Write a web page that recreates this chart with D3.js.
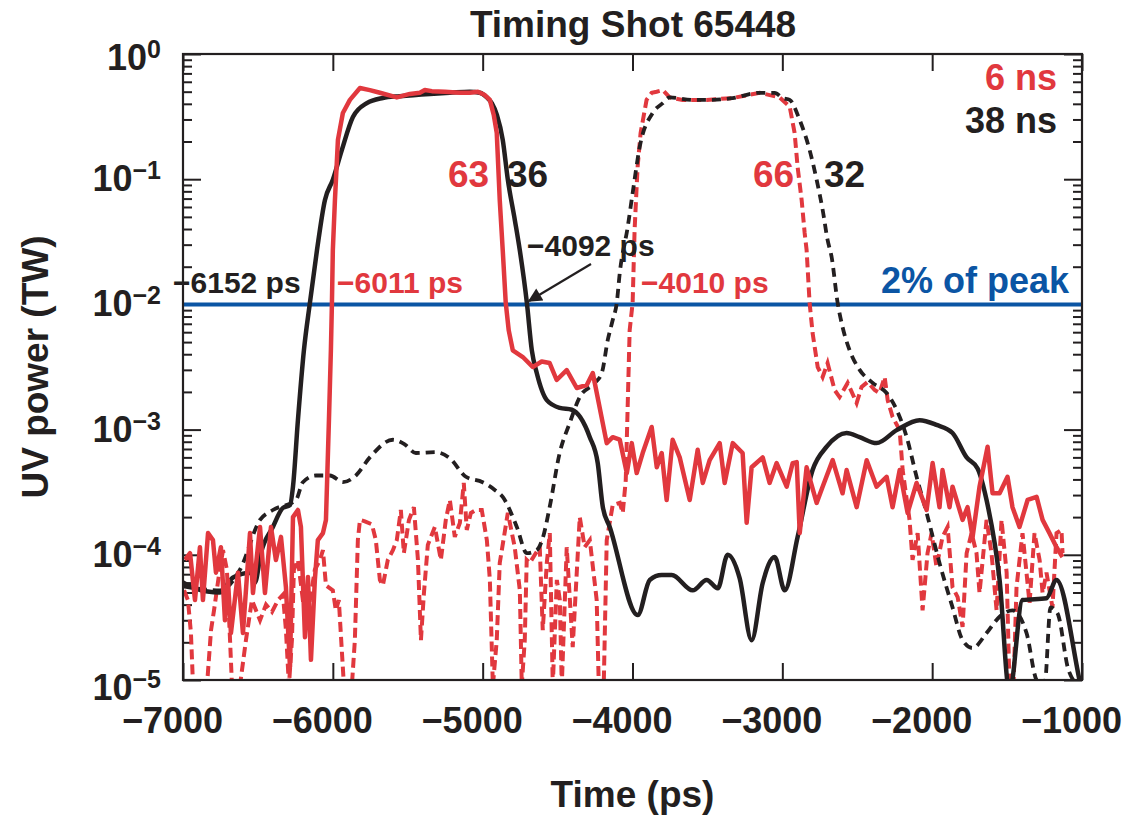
<!DOCTYPE html>
<html><head><meta charset="utf-8">
<script src="https://cdn.jsdelivr.net/npm/d3@7"></script>
<style>
body{margin:0;background:#fff}
text{font-family:"Liberation Sans",Arial,Helvetica,sans-serif;font-weight:bold}
</style>
</head><body><svg id="c" width="1128" height="815"></svg>
<script>
// ---------------- data ----------------
const xTicks = [-7000, -6000, -5000, -4000, -3000, -2000, -1000];
const yExponents = [0, -1, -2, -3, -4, -5];
const legendLabels = ["6 ns", "38 ns"];
const thresholdLevel = 1e-2;           // "2% of peak"
const thresholdLabel = "2% of peak";
const timingLabels = ["\u22126152 ps", "\u22126011 ps", "\u22124092 ps", "\u22124010 ps"];
const widthLabels = ["63", "36", "66", "32"];

// [time (ps), UV power (TW)]
const pulse1_38ns = [[-7000,6.0e-5],[-6920,5.4e-5],[-6753,5.0e-5],[-6666,6.6e-5],[-6546,7.2e-5],[-6520,6.0e-5],[-6480,1.03e-4],[-6400,1.67e-4],[-6333,2.37e-4],[-6286,2.5e-4],[-6266,3.5e-4],[-6233,1.19e-3],[-6193,4.3e-3],[-6153,1.03e-2],[-6106,0.027],[-6053,0.068],[-6000,0.099],[-5940,0.171],[-5866,0.314],[-5773,0.405],[-5666,0.445],[-5553,0.46],[-5352,0.48],[-5219,0.49],[-5086,0.50],[-5019,0.49],[-4972,0.45],[-4939,0.405],[-4905,0.326],[-4866,0.206],[-4832,0.099],[-4785,0.047],[-4752,0.027],[-4705,0.0103],[-4672,0.0043],[-4639,0.00283],[-4572,0.00172],[-4485,0.00149],[-4405,0.00144],[-4285,8.7e-4],[-4232,5.4e-4],[-4198,2.4e-4],[-4152,1.67e-4],[-3965,3.3e-5],[-3885,6.3e-5],[-3805,6.9e-5],[-3738,6.9e-5],[-3598,5.2e-5],[-3505,6.3e-5],[-3431,5.4e-5],[-3365,1.0e-4],[-3285,6.5e-5],[-3205,2.08e-5],[-3131,5.95e-5],[-3051,9.6e-5],[-2984,5.2e-5],[-2898,1.39e-4],[-2798,4.75e-4],[-2704,7.3e-4],[-2571,9.4e-4],[-2484,8.7e-4],[-2371,7.8e-4],[-2237,9.9e-4],[-2084,1.19e-3],[-1971,1.09e-3],[-1864,9.4e-4],[-1770,6.0e-4],[-1697,4.9e-4],[-1637,2.74e-4],[-1550,6.3e-5],[-1484,8e-6],[-1397,4.35e-5],[-1237,4.5e-5],[-1170,6.3e-5],[-1017,1.0e-5],[-1000,8e-6]];

const pulse1_6ns = [[-6987,9.1e-5],[-6953,1.03e-4],[-6920,4.35e-5],[-6887,1.15e-4],[-6867,4.35e-5],[-6833,1.49e-4],[-6800,1.31e-4],[-6780,7.2e-5],[-6747,1.15e-4],[-6720,3.0e-5],[-6700,6.3e-5],[-6680,2.37e-5],[-6633,7.2e-5],[-6600,2.37e-5],[-6553,1.49e-4],[-6533,4.95e-5],[-6486,1.67e-4],[-6453,4.95e-5],[-6413,1.67e-4],[-6380,9.1e-5],[-6346,1.39e-4],[-6313,5.5e-5],[-6286,1.27e-5],[-6266,2.0e-4],[-6233,2.28e-4],[-6213,1.67e-4],[-6186,2.2e-5],[-6166,6.65e-5],[-6146,1.45e-5],[-6120,6.3e-5],[-6100,1.31e-4],[-6066,1.49e-4],[-6046,1.9e-4],[-6026,1.19e-3],[-6013,4.3e-3],[-6006,1.03e-2],[-6000,0.027],[-5986,0.068],[-5966,0.206],[-5933,0.338],[-5886,0.43],[-5819,0.535],[-5753,0.515],[-5686,0.49],[-5573,0.45],[-5486,0.48],[-5419,0.49],[-5386,0.515],[-5339,0.505],[-5252,0.50],[-5152,0.49],[-5086,0.49],[-5032,0.50],[-4986,0.47],[-4952,0.43],[-4926,0.326],[-4906,0.234],[-4886,0.068],[-4866,0.027],[-4846,0.0103],[-4826,0.0062],[-4799,0.0043],[-4732,0.0038],[-4666,0.00316],[-4606,0.0035],[-4553,0.0034],[-4506,0.00249],[-4439,0.00299],[-4372,0.00215],[-4305,0.00227],[-4265,0.00283],[-4172,7.8e-4],[-4132,8.7e-4],[-4085,8.3e-4],[-4038,4.5e-4],[-4005,7.8e-4],[-3972,4.5e-4],[-3932,6.5e-4],[-3872,1.05e-3],[-3838,5.0e-4],[-3805,6.5e-4],[-3772,2.74e-4],[-3732,8.3e-4],[-3685,6.0e-4],[-3618,2.74e-4],[-3565,6.9e-4],[-3531,3.75e-4],[-3485,5.7e-4],[-3418,7.8e-4],[-3385,3.75e-4],[-3331,7.8e-4],[-3265,6.5e-4],[-3238,1.8e-4],[-3205,5.0e-4],[-3131,6.0e-4],[-3085,3.75e-4],[-3038,5.4e-4],[-2971,3.5e-4],[-2931,5.4e-4],[-2904,5.5e-4],[-2884,1.49e-4],[-2838,5.0e-4],[-2771,2.6e-4],[-2731,3.5e-4],[-2664,5.7e-4],[-2598,3.1e-4],[-2571,4.75e-4],[-2504,2.4e-4],[-2437,5.7e-4],[-2371,3.5e-4],[-2304,4.2e-4],[-2264,2.4e-4],[-2217,4.75e-4],[-2164,2.16e-4],[-2104,3.75e-4],[-2037,2.28e-4],[-1997,5.4e-4],[-1951,2.4e-4],[-1931,4.75e-4],[-1884,2.4e-4],[-1864,3.5e-4],[-1797,1.9e-4],[-1764,2.4e-4],[-1730,1.39e-4],[-1684,3.5e-4],[-1630,7.3e-4],[-1597,3.1e-4],[-1550,3.1e-4],[-1497,4.2e-4],[-1464,2.4e-4],[-1417,1.67e-4],[-1363,2.74e-4],[-1303,2.9e-4],[-1263,1.9e-4],[-1217,1.49e-4],[-1170,1.15e-4],[-1130,9.6e-5]];

const pulse2_38ns = [[-7000,5.6e-5],[-6753,5.2e-5],[-6620,7.6e-5],[-6486,1.9e-4],[-6400,2.28e-4],[-6246,2.74e-4],[-6200,3.8e-4],[-6113,4.3e-4],[-6019,4.3e-4],[-5933,3.8e-4],[-5846,4.3e-4],[-5753,6.0e-4],[-5599,8.3e-4],[-5519,7.6e-4],[-5446,6.5e-4],[-5312,6.6e-4],[-5219,5.9e-4],[-5112,4.2e-4],[-5000,3.8e-4],[-4919,3.3e-4],[-4866,2.9e-4],[-4772,1.67e-4],[-4705,1.03e-4],[-4639,1.09e-4],[-4599,1.36e-4],[-4553,2.4e-4],[-4486,6.5e-4],[-4419,1.13e-3],[-4352,1.82e-3],[-4252,2.36e-3],[-4205,2.83e-3],[-4165,5.2e-3],[-4132,7.5e-3],[-4105,0.0103],[-4085,0.0178],[-4032,0.0415],[-3999,0.0776],[-3952,0.181],[-3866,0.338],[-3798,0.405],[-3752,0.45],[-3598,0.43],[-3465,0.43],[-3331,0.445],[-3151,0.49],[-3051,0.49],[-2998,0.445],[-2951,0.43],[-2884,0.297],[-2818,0.171],[-2771,0.099],[-2731,0.057],[-2698,0.0327],[-2671,0.0239],[-2631,0.0103],[-2598,0.0066],[-2551,0.0043],[-2484,0.003],[-2397,0.00236],[-2304,0.00196],[-2237,0.00144],[-2170,8.7e-4],[-2104,4.2e-4],[-2037,2.16e-4],[-1951,8.6e-5],[-1864,3.8e-5],[-1797,2.08e-5],[-1730,1.8e-5],[-1637,2.37e-5],[-1550,3.2e-5],[-1464,3.6e-5],[-1370,2.37e-5],[-1303,1.0e-5],[-1250,9e-6],[-1210,3.8e-5],[-1163,3.4e-5],[-1090,1.2e-5],[-1000,8.5e-6]];

const pulse2_6ns = [[-6993,5.2e-5],[-6967,4.35e-5],[-6947,2.37e-5],[-6933,9e-6],[-6840,9e-6],[-6813,2.5e-5],[-6793,3.6e-5],[-6760,6.9e-5],[-6733,1.09e-4],[-6707,7.6e-5],[-6686,2.08e-5],[-6673,9e-6],[-6620,9e-6],[-6580,2.08e-5],[-6540,4.35e-5],[-6513,3.6e-5],[-6486,3.0e-5],[-6446,4.0e-5],[-6406,3.5e-5],[-6366,4.35e-5],[-6333,4.8e-5],[-6313,2.5e-5],[-6293,9e-6],[-6273,2.08e-5],[-6260,7.6e-5],[-6233,9.1e-5],[-6200,4.35e-5],[-6153,4.35e-5],[-6120,7.6e-5],[-6086,9.1e-5],[-6066,1.09e-4],[-6046,5.7e-5],[-6000,5.2e-5],[-5980,3.6e-5],[-5960,4.35e-5],[-5926,9e-6],[-5873,9e-6],[-5853,2.08e-5],[-5833,1.31e-4],[-5819,1.9e-4],[-5786,1.85e-4],[-5739,1.75e-4],[-5713,1.31e-4],[-5686,6.3e-5],[-5666,5.7e-5],[-5633,9.1e-5],[-5599,1.09e-4],[-5573,1.31e-4],[-5546,2.28e-4],[-5526,1.03e-4],[-5492,1.9e-4],[-5459,2.4e-4],[-5432,9.1e-5],[-5412,2.08e-5],[-5392,4.95e-5],[-5366,1.2e-4],[-5319,1.67e-4],[-5279,9.1e-5],[-5246,1.9e-4],[-5219,2.74e-4],[-5186,1.39e-4],[-5152,1.8e-4],[-5126,3.75e-4],[-5106,1.58e-4],[-5079,2.16e-4],[-5046,2.28e-4],[-5006,2.28e-4],[-4972,1.31e-4],[-4952,6.3e-5],[-4932,9e-6],[-4906,2.08e-5],[-4886,8.6e-5],[-4832,2.16e-4],[-4786,1.15e-4],[-4752,5.2e-5],[-4739,9e-6],[-4719,2.08e-5],[-4706,9.1e-5],[-4686,8.6e-5],[-4652,1.0e-4],[-4619,1.15e-4],[-4599,2.5e-5],[-4572,8.6e-5],[-4552,1.49e-4],[-4532,9e-6],[-4505,6.3e-5],[-4485,4.35e-5],[-4472,9e-6],[-4439,1.15e-4],[-4399,1.83e-5],[-4352,2.0e-4],[-4319,1.15e-4],[-4285,1.31e-4],[-4239,4.35e-5],[-4225,9e-6],[-4192,9e-6],[-4172,1.31e-4],[-4132,2.5e-4],[-4085,2.6e-4],[-4065,2.16e-4],[-4045,3.95e-4],[-4019,0.0062],[-3999,0.0103],[-3986,0.0393],[-3966,0.125],[-3946,0.234],[-3906,0.43],[-3872,0.49],[-3839,0.50],[-3798,0.515],[-3752,0.45],[-3665,0.43],[-3505,0.43],[-3331,0.445],[-3151,0.49],[-3018,0.45],[-2951,0.38],[-2918,0.234],[-2898,0.125],[-2871,0.068],[-2851,0.0372],[-2838,0.0272],[-2818,0.0103],[-2798,0.0059],[-2764,0.00316],[-2731,0.00263],[-2698,0.0034],[-2651,0.00207],[-2618,0.00182],[-2564,0.00236],[-2504,0.00163],[-2471,0.00219],[-2431,0.0024],[-2384,0.00207],[-2351,0.00196],[-2317,0.00263],[-2297,0.00172],[-2264,0.00126],[-2217,9.9e-4],[-2197,4.75e-4],[-2151,1.9e-4],[-2131,9.1e-5],[-2097,1.49e-4],[-2064,3.6e-5],[-2031,1.03e-4],[-2004,1.49e-4],[-1971,8.0e-5],[-1931,1.39e-4],[-1897,1.67e-4],[-1864,5.5e-5],[-1830,4.6e-5],[-1797,2.65e-5],[-1770,1.03e-4],[-1737,1.49e-4],[-1704,1.03e-4],[-1684,4.95e-5],[-1637,1.9e-4],[-1604,1.03e-4],[-1570,3.6e-5],[-1537,1.9e-4],[-1503,7.2e-5],[-1484,9e-6],[-1457,9e-6],[-1437,5.5e-5],[-1397,1.49e-4],[-1350,4.1e-5],[-1317,1.49e-4],[-1283,9.1e-5],[-1263,4.95e-5],[-1237,7.2e-5],[-1197,3.8e-5],[-1170,1.49e-4],[-1137,1.58e-4],[-1130,1.03e-4]];

// ---------------- drawing ----------------
const RED = "#e1383e", BLACK = "#231f20", BLUE = "#0b55a4";
const M = {l:183, r:1082, t:54, b:680};
const svg = d3.select("#c");
const x = d3.scaleLinear().domain([xTicks[0], xTicks[xTicks.length-1]]).range([M.l, M.r]);
const y = d3.scaleLog().domain([1e-5, 1]).range([M.b, M.t]);

const defs = svg.append("defs");
defs.append("clipPath").attr("id","plot")
  .append("rect").attr("x",M.l).attr("y",M.t).attr("width",M.r-M.l).attr("height",M.b-M.t);

const isMajor = v => Math.abs(Math.log10(v) - Math.round(Math.log10(v))) < 1e-6;
const yTickVals = y.ticks();

function styleAxis(g){ g.select(".domain").remove(); g.selectAll(".tick line").attr("stroke",BLACK).attr("stroke-width",2); g.selectAll(".tick text").remove(); }

svg.append("g").attr("transform",`translate(${M.l},0)`)
  .call(d3.axisLeft(y).tickValues(yTickVals).tickSize(-9).tickFormat(""))
  .call(styleAxis)
  .selectAll(".tick line").attr("x2", d => isMajor(d) ? 18 : 9);
svg.append("g").attr("transform",`translate(${M.r},0)`)
  .call(d3.axisRight(y).tickValues(yTickVals).tickSize(-9).tickFormat(""))
  .call(styleAxis)
  .selectAll(".tick line").attr("x2", d => isMajor(d) ? -18 : -9);
svg.append("g").attr("transform",`translate(0,${M.t})`)
  .call(d3.axisTop(x).tickValues(xTicks).tickSize(-17).tickFormat(""))
  .call(styleAxis);
svg.append("g").attr("transform",`translate(0,${M.b})`)
  .call(d3.axisBottom(x).tickValues(xTicks).tickSize(-17).tickFormat(""))
  .call(styleAxis);

// threshold line
svg.append("line").attr("x1",M.l).attr("x2",M.r).attr("y1",y(thresholdLevel)).attr("y2",y(thresholdLevel))
  .attr("stroke",BLUE).attr("stroke-width",4);

// traces
const line = d3.line().x(d => x(d[0])).y(d => y(d[1]));
const lineSmooth = d3.line().x(d => x(d[0])).y(d => y(d[1])).curve(d3.curveMonotoneX);
const gp = svg.append("g").attr("clip-path","url(#plot)");
gp.append("path").datum(pulse2_6ns).attr("d",line).attr("fill","none").attr("stroke",RED)
  .attr("stroke-width",4).attr("stroke-dasharray","10,5");
gp.append("path").datum(pulse2_38ns).attr("d",lineSmooth).attr("fill","none").attr("stroke",BLACK)
  .attr("stroke-width",3.8).attr("stroke-dasharray","9,6");
gp.append("path").datum(pulse1_38ns).attr("d",lineSmooth).attr("fill","none").attr("stroke",BLACK)
  .attr("stroke-width",4.5).attr("stroke-linejoin","round");
gp.append("path").datum(pulse1_6ns).attr("d",line).attr("fill","none").attr("stroke",RED)
  .attr("stroke-width",4.5).attr("stroke-linejoin","round");

// frame
svg.append("rect").attr("x",M.l).attr("y",M.t).attr("width",M.r-M.l).attr("height",M.b-M.t)
  .attr("fill","none").attr("stroke",BLACK).attr("stroke-width",2.2);

// x tick labels (digits centred on tick, minus hanging left)
svg.selectAll(".xl").data(xTicks).enter().append("text").attr("class","xl")
  .attr("y",733).attr("font-size",36).attr("fill",BLACK)
  .text(d => (d<0?"\u2212":"") + Math.abs(d))
  .each(function(d){
    const full = this.getComputedTextLength();
    const n = this.getNumberOfChars();
    const dig = this.getSubStringLength(1, n-1);
    d3.select(this).attr("x", x(d) - (full - dig) - dig/2);
  });

// y tick labels 10^n
const yl = svg.selectAll(".yl").data(yExponents).enter().append("text").attr("class","yl")
  .attr("x",161).attr("y", d => y(Math.pow(10,d)) + (d===0 ? 16 : d===-5 ? 20 : 12))
  .attr("text-anchor","end").attr("font-size",36).attr("fill",BLACK);
yl.append("tspan").text("10");
yl.append("tspan").attr("dy",-12).attr("font-size",25).text(d => d===0 ? "0" : "\u2212"+Math.abs(d));

// axis titles
svg.append("text").attr("x",(M.l+M.r)/2).attr("y",807).attr("text-anchor","middle")
  .attr("font-size",37).attr("fill",BLACK).text("Time (ps)");
svg.append("text").attr("transform",`translate(48,${(M.t+M.b)/2}) rotate(-90)`).attr("text-anchor","middle")
  .attr("font-size",37).attr("fill",BLACK).text("UV power (TW)");
svg.append("text").attr("x",633).attr("y",37).attr("text-anchor","middle")
  .attr("font-size",37).attr("fill",BLACK).text("Timing Shot 65448");

// legend
svg.append("text").attr("x",1057).attr("y",90).attr("text-anchor","end").attr("font-size",36).attr("fill",RED).text(legendLabels[0]);
svg.append("text").attr("x",1057).attr("y",133).attr("text-anchor","end").attr("font-size",36).attr("fill",BLACK).text(legendLabels[1]);

// annotations
const ann = [
  {t:timingLabels[0], x:173, y:293, c:BLACK, fs:30},
  {t:timingLabels[1], x:337, y:293, c:RED, fs:30},
  {t:timingLabels[2], x:527, y:256, c:BLACK, fs:30},
  {t:timingLabels[3], x:641, y:293, c:RED, fs:30},
  {t:widthLabels[0], x:448, y:187, c:RED, fs:37},
  {t:widthLabels[1], x:507, y:187, c:BLACK, fs:37},
  {t:widthLabels[2], x:753, y:187, c:RED, fs:37},
  {t:widthLabels[3], x:824, y:187, c:BLACK, fs:37}
];
svg.selectAll(".ann").data(ann).enter().append("text").attr("class","ann")
  .attr("x",d=>d.x).attr("y",d=>d.y).attr("font-size",d=>d.fs).attr("fill",d=>d.c).text(d=>d.t);
svg.append("text").attr("x",1069).attr("y",293).attr("text-anchor","end").attr("font-size",36)
  .attr("fill",BLUE).text(thresholdLabel);

// arrow
defs.append("marker").attr("id","ah").attr("viewBox","0 0 10 10").attr("refX",9).attr("refY",5)
  .attr("markerWidth",18).attr("markerHeight",14).attr("markerUnits","userSpaceOnUse").attr("orient","auto")
  .append("path").attr("d","M0,0 L10,5 L0,10 z").attr("fill",BLACK);
svg.append("line").attr("x1",591).attr("y1",264).attr("x2",529).attr("y2",301)
  .attr("stroke",BLACK).attr("stroke-width",2.2).attr("marker-end","url(#ah)");
</script>
</body></html>
